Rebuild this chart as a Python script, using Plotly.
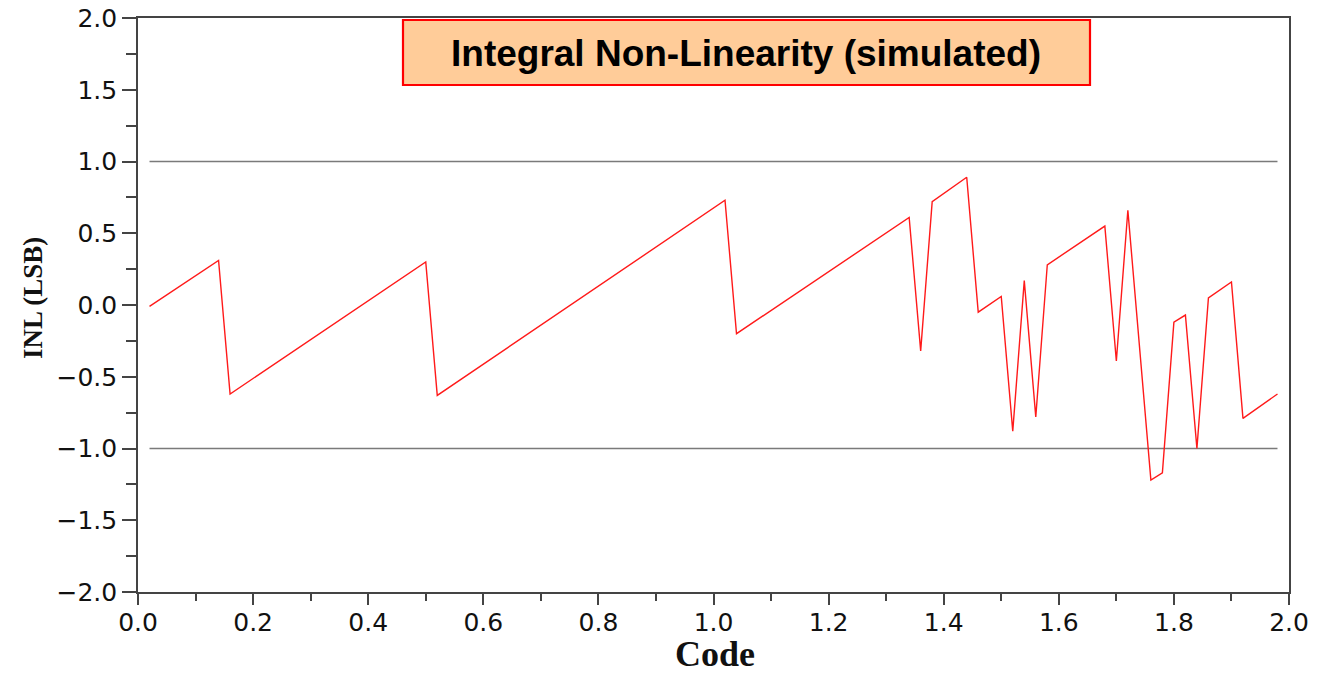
import plotly.graph_objects as go

# INL curve vertices (code, LSB)
code = [0.02, 0.14, 0.16, 0.50, 0.52, 1.02, 1.04, 1.34, 1.36, 1.38, 1.44, 1.46,
        1.50, 1.52, 1.54, 1.56, 1.58, 1.68, 1.70, 1.72, 1.76, 1.78, 1.80, 1.82,
        1.84, 1.86, 1.90, 1.92, 1.98]
inl = [-0.01, 0.31, -0.62, 0.30, -0.63, 0.73, -0.20, 0.61, -0.32, 0.72, 0.89, -0.05,
       0.06, -0.88, 0.17, -0.78, 0.28, 0.55, -0.39, 0.66, -1.22, -1.17, -0.12, -0.07,
       -1.00, 0.05, 0.16, -0.79, -0.62]

# +/-1 LSB limit lines
limit_levels = [1.0, -1.0]
limit_span = [0.02, 1.98]

x_ticks = [0.0, 0.2, 0.4, 0.6, 0.8, 1.0, 1.2, 1.4, 1.6, 1.8, 2.0]
y_ticks = [-2.0, -1.5, -1.0, -0.5, 0.0, 0.5, 1.0, 1.5, 2.0]

title_text = "Integral Non-Linearity (simulated)"

# plot-area geometry in pixels
W, H = 1317, 676
L, R, T, B = 138, 28, 18, 84
PW, PH = W - L - R, H - T - B


def px(xp):
    return (xp - L) / PW


def py(yp):
    return (H - B - yp) / PH


fig = go.Figure()
fig.add_trace(go.Scatter(
    x=code, y=inl, mode="lines",
    line=dict(color="#ff1a1a", width=1.4),
    showlegend=False, hoverinfo="skip",
))

for lvl in limit_levels:
    fig.add_shape(type="line", xref="x", yref="y",
                  x0=limit_span[0], x1=limit_span[1], y0=lvl, y1=lvl,
                  line=dict(color="#7a7a7a", width=1.3), layer="below")

tick_font = dict(family="DejaVu Sans", size=25, color="#111111")
axis_common = dict(
    showgrid=False, zeroline=False, showline=True, mirror=True,
    linecolor="#444444", linewidth=1.6, automargin=False,
    ticks="outside", tickcolor="#444444", tickwidth=1.5,
    tickfont=tick_font, tickformat=".1f",
)

fig.update_xaxes(range=[0, 2], tickvals=x_ticks, ticklen=11,
                 ticklabelstandoff=-4,
                 minor=dict(dtick=0.1, ticks="outside", ticklen=7,
                            tickcolor="#444444", tickwidth=1.5, showgrid=False),
                 **axis_common)
fig.update_yaxes(range=[-2, 2], tickvals=y_ticks, ticklen=14,
                 minor=dict(dtick=0.25, ticks="outside", ticklen=10,
                            tickcolor="#444444", tickwidth=1.5, showgrid=False),
                 **axis_common)

# axis titles
fig.add_annotation(text="<b>Code</b>", xref="paper", yref="paper",
                   x=px(715), y=py(675), xanchor="center", yanchor="bottom",
                   showarrow=False, borderpad=0,
                   font=dict(family="Liberation Serif", size=36, color="#111111"))
fig.add_annotation(text="<b>INL (LSB)</b>", xref="paper", yref="paper",
                   x=px(33), y=py(298), xanchor="center", yanchor="middle",
                   textangle=-90, showarrow=False,
                   font=dict(family="Liberation Serif", size=27, color="#111111"))

# title box
fig.add_shape(type="rect", xref="paper", yref="paper",
              x0=px(403), x1=px(1090), y0=py(85), y1=py(20),
              fillcolor="#ffcc99", line=dict(color="#ff0000", width=2.2),
              layer="above")
fig.add_annotation(text="<b>" + title_text + "</b>", xref="paper", yref="paper",
                   x=px(746), y=py(53), xanchor="center", yanchor="middle",
                   showarrow=False,
                   font=dict(family="Liberation Sans", size=37, color="#000000"))

fig.update_layout(
    width=W, height=H,
    margin=dict(l=L, r=R, t=T, b=B),
    paper_bgcolor="white", plot_bgcolor="white",
)

fig.write_html("out.html")
